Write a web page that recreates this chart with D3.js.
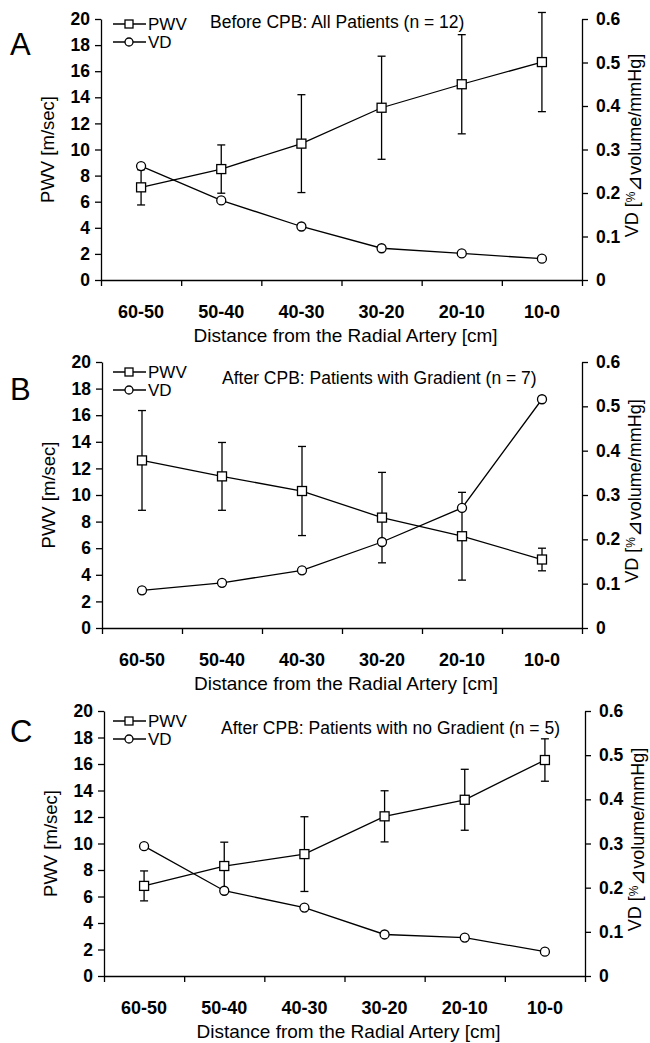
<!DOCTYPE html>
<html lang="en">
<head>
  <meta charset="UTF-8">
  <title>PWV and VD along the radial artery</title>
  <script src="https://cdn.jsdelivr.net/npm/d3@7/dist/d3.min.js"></script>
  <style>
    body { margin: 0; background: #fff; }
    svg { display: block; }
    text { font-family: "Liberation Sans", Arial, sans-serif; fill: #000; }
    .tick text { font-size: 17.5px; font-weight: bold; }
    .axis path, .axis line { stroke: #000; stroke-width: 1.3; }
  </style>
</head>
<body>
<script>
  // categories (distance segments, cm)
  var categories = ["60-50", "50-40", "40-30", "30-20", "20-10", "10-0"];
  var pwvTicks = [0, 2, 4, 6, 8, 10, 12, 14, 16, 18, 20];
  var vdTicks = [0, 0.1, 0.2, 0.3, 0.4, 0.5, 0.6];

  // A: before CPB, all patients
  var pwvA    = [7.1, 8.5, 10.45, 13.2, 15.0, 16.7];
  var pwvErrA = [1.35, 1.85, 3.75, 3.95, 3.8, 3.8];
  var vdA     = [0.262, 0.183, 0.123, 0.073, 0.061, 0.049];

  // B: after CPB, gradient
  var pwvB    = [12.6, 11.4, 10.3, 8.3, 6.9, 5.15];
  var pwvErrB = [3.75, 2.55, 3.35, 3.4, 3.3, 0.85];
  var vdB     = [0.085, 0.102, 0.130, 0.194, 0.271, 0.516];

  // C: after CPB, no gradient
  var pwvC    = [6.8, 8.3, 9.2, 12.05, 13.3, 16.3];
  var pwvErrC = [1.13, 1.8, 2.82, 1.93, 2.3, 1.6];
  var vdC     = [0.294, 0.193, 0.155, 0.094, 0.087, 0.055];

  var width = 650, height = 1043;
  var svg = d3.select('body').append('svg')
      .attr('width', width).attr('height', height);

  var panels = [
    {letter: "A", title: "Before CPB: All Patients (n = 12)",
     pwv: pwvA, err: pwvErrA, vd: vdA,
     top: 19, bottom: 280, left: 101, right: 582,
     letterY: 55, legY: 24, titleX: 210, titleY: 28},
    {letter: "B", title: "After CPB: Patients with Gradient (n = 7)",
     pwv: pwvB, err: pwvErrB, vd: vdB,
     top: 362, bottom: 628, left: 102, right: 582,
     letterY: 400, legY: 372, titleX: 222, titleY: 384},
    {letter: "C", title: "After CPB: Patients with no Gradient (n = 5)",
     pwv: pwvC, err: pwvErrC, vd: vdC,
     top: 711, bottom: 976, left: 104, right: 585,
     letterY: 742, legY: 721, titleX: 221, titleY: 734}
  ];

  panels.forEach(function(p) { drawPanel(p); });

  function drawPanel(p) {
    var g = svg.append('g');
    var x = d3.scaleBand().domain(categories).range([p.left, p.right]);
    var xEdge = d3.scaleLinear().domain([0, categories.length]).range([p.left, p.right]);
    var yL = d3.scaleLinear().domain([0, 20]).range([p.bottom, p.top]);
    var yR = d3.scaleLinear().domain([0, 0.6]).range([p.bottom, p.top]);
    var cx = function(i) { return x(categories[i]) + x.bandwidth() / 2; };

    // axes
    g.append('g').attr('class', 'axis')
      .attr('transform', 'translate(' + p.left + ',0)')
      .call(d3.axisLeft(yL).tickValues(pwvTicks).tickSize(6).tickSizeOuter(0).tickPadding(5));

    g.append('g').attr('class', 'axis')
      .attr('transform', 'translate(' + p.right + ',0)')
      .call(d3.axisRight(yR).tickValues(vdTicks).tickSize(6).tickSizeOuter(0).tickPadding(8)
        .tickFormat(function(d) { return d === 0 ? "0" : d3.format(".1f")(d); }));

    g.append('g').attr('class', 'axis')
      .attr('transform', 'translate(0,' + p.bottom + ')')
      .call(d3.axisBottom(xEdge).ticks(categories.length).tickFormat("").tickSize(6).tickSizeOuter(0));

    var xl = g.append('g').attr('class', 'axis')
      .attr('transform', 'translate(0,' + p.bottom + ')')
      .call(d3.axisBottom(x).tickSize(0).tickPadding(25));
    xl.select('.domain').remove();
    xl.selectAll('text').style('font-size', '18px');

    // axis titles
    g.append('text')
      .attr('transform', 'translate(' + (p.left - 53) + ',' + ((p.top + p.bottom) / 2) + ') rotate(-90)')
      .attr('text-anchor', 'middle').attr('dy', '0.35em')
      .style('font-size', '18.5px')
      .text('PWV [m/sec]');

    var rt = g.append('text')
      .attr('transform', 'translate(' + (p.right + 50) + ',' + ((p.top + p.bottom) / 2 - 4) + ') rotate(-90)')
      .attr('text-anchor', 'middle').attr('dy', '0.35em')
      .style('font-size', '18px');
    rt.append('tspan').text('VD [');
    rt.append('tspan').style('font-size', '12px').attr('dy', '-0.3em').text('%');
    rt.append('tspan').attr('dy', '0.3em').style('font-size', '20px').text('\u22BF');
    rt.append('tspan').text('volume/mmHg]');

    g.append('text')
      .attr('x', (p.left + p.right) / 2 + 4).attr('y', p.bottom + 62)
      .attr('text-anchor', 'middle')
      .style('font-size', '19px')
      .text('Distance from the Radial Artery [cm]');

    // panel letter and subtitle
    g.append('text').attr('x', 10).attr('y', p.letterY)
      .style('font-size', '31px').text(p.letter);
    g.append('text').attr('x', p.titleX).attr('y', p.titleY)
      .style('font-size', '17.5px').text(p.title);

    // error bars
    var eb = g.append('g').attr('stroke', '#000').attr('stroke-width', 1.3);
    p.pwv.forEach(function(v, i) {
      var hi = yL(v + p.err[i]), lo = yL(v - p.err[i]);
      eb.append('line').attr('x1', cx(i)).attr('x2', cx(i)).attr('y1', hi).attr('y2', lo);
      eb.append('line').attr('x1', cx(i) - 4).attr('x2', cx(i) + 4).attr('y1', hi).attr('y2', hi);
      eb.append('line').attr('x1', cx(i) - 4).attr('x2', cx(i) + 4).attr('y1', lo).attr('y2', lo);
    });

    // lines
    var linePwv = d3.line().x(function(d, i) { return cx(i); }).y(function(d) { return yL(d); });
    var lineVd = d3.line().x(function(d, i) { return cx(i); }).y(function(d) { return yR(d); });
    g.append('path').attr('d', linePwv(p.pwv)).attr('fill', 'none').attr('stroke', '#000').attr('stroke-width', 1.3);
    g.append('path').attr('d', lineVd(p.vd)).attr('fill', 'none').attr('stroke', '#000').attr('stroke-width', 1.3);

    // markers
    g.selectAll('rect.pwv').data(p.pwv).enter().append('rect')
      .attr('x', function(d, i) { return cx(i) - 4.5; })
      .attr('y', function(d) { return yL(d) - 4.5; })
      .attr('width', 9).attr('height', 9)
      .attr('fill', '#fff').attr('stroke', '#000').attr('stroke-width', 1.3);
    g.selectAll('circle.vd').data(p.vd).enter().append('circle')
      .attr('cx', function(d, i) { return cx(i); })
      .attr('cy', function(d) { return yR(d); })
      .attr('r', 4.5)
      .attr('fill', '#fff').attr('stroke', '#000').attr('stroke-width', 1.3);

    // legend
    var lg = g.append('g');
    [['PWV', 'sq'], ['VD', 'ci']].forEach(function(item, k) {
      var ly = p.legY + k * 18;
      lg.append('line').attr('x1', 113).attr('x2', 146).attr('y1', ly).attr('y2', ly)
        .attr('stroke', '#000').attr('stroke-width', 1.3);
      if (item[1] === 'sq') {
        lg.append('rect').attr('x', 125).attr('y', ly - 4).attr('width', 8).attr('height', 8)
          .attr('fill', '#fff').attr('stroke', '#000').attr('stroke-width', 1.3);
      } else {
        lg.append('circle').attr('cx', 129).attr('cy', ly).attr('r', 4)
          .attr('fill', '#fff').attr('stroke', '#000').attr('stroke-width', 1.3);
      }
      lg.append('text').attr('x', 148).attr('y', ly).attr('dy', '0.36em')
        .style('font-size', '17px').text(item[0]);
    });
  }
</script>
</body>
</html>
